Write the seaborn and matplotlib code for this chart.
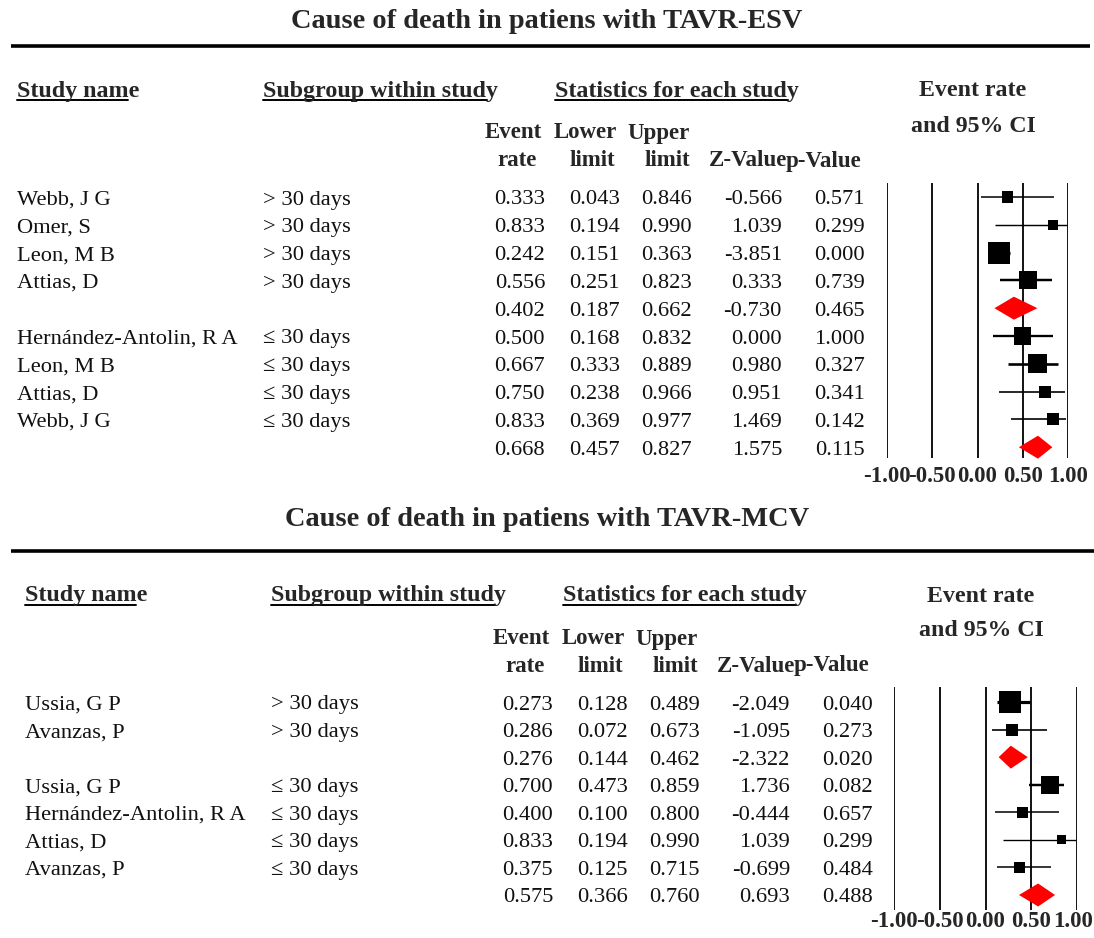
import numpy as np
import pandas as pd
import matplotlib
matplotlib.use('Agg')
import matplotlib.pyplot as plt
import matplotlib.transforms as mtransforms
import seaborn as sns

# TAVR-ESV rows (blank study name = subgroup summary)
esv_study = ['Webb, J G', 'Omer, S', 'Leon, M B', 'Attias, D', '',
             'Hernández-Antolin, R A', 'Leon, M B', 'Attias, D', 'Webb, J G', '']
esv_subgroup = ['> 30 days'] * 4 + [''] + ['≤ 30 days'] * 4 + ['']
esv_rate = [0.333, 0.833, 0.242, 0.556, 0.402, 0.500, 0.667, 0.750, 0.833, 0.668]
esv_lower = [0.043, 0.194, 0.151, 0.251, 0.187, 0.168, 0.333, 0.238, 0.369, 0.457]
esv_upper = [0.846, 0.990, 0.363, 0.823, 0.662, 0.832, 0.889, 0.966, 0.977, 0.827]
esv_z = [-0.566, 1.039, -3.851, 0.333, -0.730, 0.000, 0.980, 0.951, 1.469, 1.575]
esv_p = [0.571, 0.299, 0.000, 0.739, 0.465, 1.000, 0.327, 0.341, 0.142, 0.115]
esv_weight = [25, 21, 100, 67, np.nan, 60, 75, 30, 30, np.nan]

# TAVR-MCV rows
mcv_study = ['Ussia, G P', 'Avanzas, P', '',
             'Ussia, G P', 'Hernández-Antolin, R A', 'Attias, D', 'Avanzas, P', '']
mcv_subgroup = ['> 30 days'] * 2 + [''] + ['≤ 30 days'] * 4 + ['']
mcv_rate = [0.273, 0.286, 0.276, 0.700, 0.400, 0.833, 0.375, 0.575]
mcv_lower = [0.128, 0.072, 0.144, 0.473, 0.100, 0.194, 0.125, 0.366]
mcv_upper = [0.489, 0.673, 0.462, 0.859, 0.800, 0.990, 0.715, 0.760]
mcv_z = [-2.049, -1.095, -2.322, 1.736, -0.444, 1.039, -0.699, 0.693]
mcv_p = [0.040, 0.273, 0.020, 0.082, 0.657, 0.299, 0.484, 0.488]
mcv_weight = [100, 30, np.nan, 67, 25, 17, 25, np.nan]

tick_values = [-1.0, -0.5, 0.0, 0.5, 1.0]
tick_labels = ['-1.00', '-0.50', '0.00', '0.50', '1.00']

W, H = 1094, 938
TDY = 3  # va='center' sits a little high for this serif font


def make_df(study, subgroup, rate, lower, upper, z, p, weight):
    df = pd.DataFrame({'study': study, 'subgroup': subgroup, 'rate': rate,
                       'lower': lower, 'upper': upper, 'z': z, 'p': p,
                       'weight': weight})
    df['row'] = np.arange(len(df))
    df['summary'] = df['study'] == ''
    return df


def panel(fig, bg, df, title, lay, underlined):
    dx = lay['dx']
    # title and heavy rule
    bg.text(547, lay['title_y'] + TDY, title, ha='center', va='center',
            fontsize=20.4, fontweight='bold')
    bg.plot([11, lay['rule_x1']], [lay['rule_y'], lay['rule_y']],
            color='black', lw=2.6, solid_capstyle='butt')

    # section headers
    hy = lay['head_y']
    for x, s in [(17 + dx, 'Study name'), (263 + dx, 'Subgroup within study'),
                 (555 + dx, 'Statistics for each study')]:
        t = bg.text(x, hy + TDY, s, ha='left', va='center', fontsize=17.3, fontweight='bold')
        underlined.append((t, hy + 12))
    bg.text(lay['ci_x'], lay['ci_y'][0] + TDY, 'Event rate', ha='center', va='center',
            fontsize=17.2, fontweight='bold')
    bg.text(lay['ci_x'], lay['ci_y'][1] + TDY, 'and 95% CI', ha='center', va='center',
            fontsize=17.2, fontweight='bold')

    # column headers
    for x, s in zip([542, 617, 690], ['Event', 'Lower', 'Upper']):
        bg.text(x + dx, lay['col_y'][0] + TDY, s, ha='right', va='center',
                fontsize=16.5, fontweight='bold')
    for x, s in zip([537, 615, 690, 787, 861],
                    ['rate', 'limit', 'limit', 'Z-Value', 'p-Value']):
        bg.text(x + dx, lay['col_y'][1] + TDY, s, ha='right', va='center',
                fontsize=16.5, fontweight='bold')

    # table rows
    col_right = [545, 620, 692, 782, 865]
    for _, r in df.iterrows():
        y = lay['row0'] + r['row'] * lay['step'] + TDY
        bg.text(17 + dx, y, r['study'], ha='left', va='center', fontsize=16.2, color='#111111')
        bg.text(263 + dx, y, r['subgroup'], ha='left', va='center', fontsize=16.2, color='#111111')
        for x, key in zip(col_right, ['rate', 'lower', 'upper', 'z', 'p']):
            bg.text(x + dx, y, f"{r[key]:.3f}", ha='right', va='center',
                    fontsize=16.2, color='#111111')

    # forest plot
    x0, x1 = lay['fx']
    y0, y1 = lay['fy']
    ax = fig.add_axes([x0 / W, 1 - y1 / H, (x1 - x0) / W, (y1 - y0) / H])
    ax.set_facecolor('none')
    for t in tick_values:
        ax.axvline(t, color='black', lw=1.3, zorder=1)

    studies = df[~df['summary']]
    lw = 0.7 + 1.6 * studies['weight'] / 100
    ax.hlines(studies['row'], studies['lower'], studies['upper'],
              colors='black', linewidth=lw, zorder=2, clip_on=False)
    sns.scatterplot(data=studies, x='rate', y='row', size='weight',
                    sizes=(0, 251), size_norm=(0, 100), marker='s',
                    color='black', linewidth=0, legend=False, ax=ax,
                    zorder=3, clip_on=False)

    half = 11.5 / lay['step']
    for _, r in df[df['summary']].iterrows():
        ax.fill([r['lower'], r['rate'], r['upper'], r['rate']],
                [r['row'], r['row'] - half, r['row'], r['row'] + half],
                color='#ff0000', lw=0, zorder=3, clip_on=False)

    ax.set_xlim(-1, 1)
    ax.set_ylim((y1 - lay['row0']) / lay['step'], (y0 - lay['row0']) / lay['step'])
    ax.set_xticks(tick_values)
    ax.set_xticklabels(tick_labels, fontsize=16.5, fontweight='bold')
    ax.tick_params(axis='x', length=0, pad=lay['tick_pad'])
    ax.set_yticks([])
    ax.set_xlabel('')
    ax.set_ylabel('')
    for s in ax.spines.values():
        s.set_visible(False)

    # keep the last tick label inside the figure edge
    if lay['nudge']:
        last = ax.get_xticklabels()[-1]
        last.set_transform(last.get_transform() +
                           mtransforms.ScaledTranslation(lay['nudge'] / 100, 0,
                                                         fig.dpi_scale_trans))
    return ax


if __name__ == "__main__":
    sns.set_style('white')
    plt.rcParams['font.family'] = ['Liberation Serif', 'DejaVu Serif']

    esv_df = make_df(esv_study, esv_subgroup, esv_rate, esv_lower, esv_upper,
                     esv_z, esv_p, esv_weight)
    mcv_df = make_df(mcv_study, mcv_subgroup, mcv_rate, mcv_lower, mcv_upper,
                     mcv_z, mcv_p, mcv_weight)

    fig = plt.figure(figsize=(W / 100, H / 100), dpi=100)
    bg = fig.add_axes([0, 0, 1, 1])
    bg.set_xlim(0, W)
    bg.set_ylim(H, 0)
    bg.axis('off')

    underlined = []
    top_layout = dict(dx=0, title_y=18, rule_y=46, rule_x1=1090, head_y=88,
                      ci_x=973, ci_y=(88, 123), col_y=(130, 158),
                      row0=197, step=27.8, fx=(887, 1068), fy=(183, 458),
                      tick_pad=6, nudge=0)
    bottom_layout = dict(dx=8, title_y=516, rule_y=551, rule_x1=1094, head_y=593,
                         ci_x=981, ci_y=(593, 628), col_y=(636, 663),
                         row0=702, step=27.57, fx=(894, 1077), fy=(687, 910),
                         tick_pad=1, nudge=-4)
    panel(fig, bg, esv_df, 'Cause of death in patiens with TAVR-ESV', top_layout, underlined)
    panel(fig, bg, mcv_df, 'Cause of death in patiens with TAVR-MCV', bottom_layout, underlined)

    # underline the section headers
    fig.canvas.draw()
    renderer = fig.canvas.get_renderer()
    inv = bg.transData.inverted()
    for t, y in underlined:
        bb = t.get_window_extent(renderer)
        ux0 = inv.transform((bb.x0, bb.y0))[0]
        ux1 = inv.transform((bb.x1, bb.y0))[0]
        bg.plot([ux0, ux1 - 11], [y, y], color='black', lw=1.4)

    fig.savefig('out.png', dpi=100)
